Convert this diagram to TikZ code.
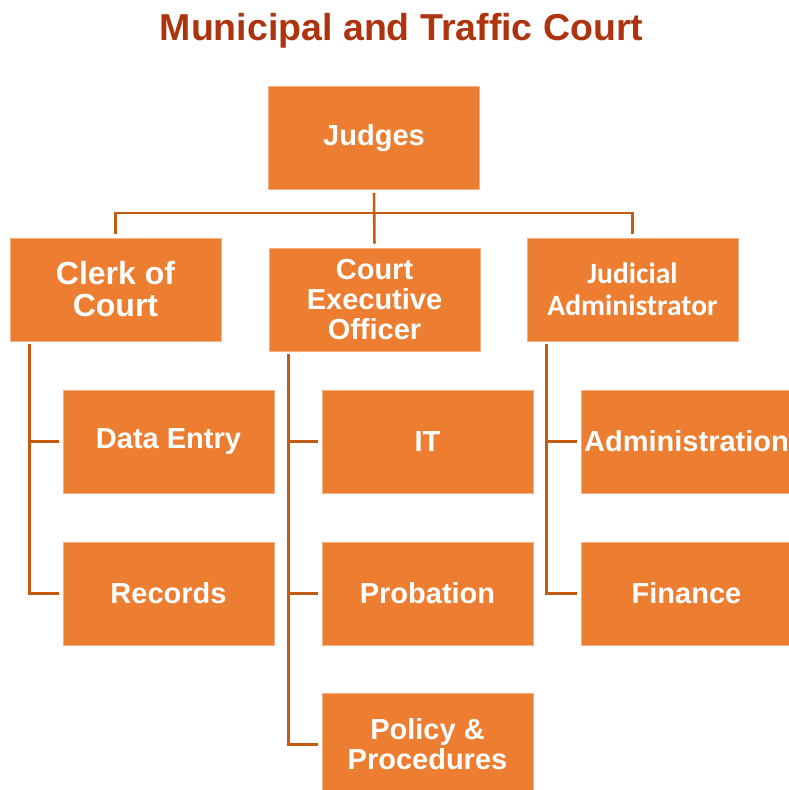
\documentclass[tikz,border=0pt]{standalone}
\usepackage{fontspec}
\setmainfont{Liberation Sans}
\newfontfamily\calibrifont{Carlito}
\usetikzlibrary{positioning}
\definecolor{CourtOrange}{RGB}{237,125,49}
\definecolor{CourtLine}{RGB}{197,90,17}
\definecolor{CourtTitle}{RGB}{173,52,14}

\begin{document}
\begin{tikzpicture}[x=1pt, y=-1pt,
    unit/.style={fill=CourtOrange, draw=CourtOrange!60!white, line width=0.6pt, minimum width=211pt, minimum height=103pt,
      inner sep=0pt, align=center, text=white, font=\bfseries\fontsize{29}{32}\selectfont},
    conn/.style={draw=CourtLine, line width=2.6pt, shorten <=3pt, shorten >=4pt}]
    \useasboundingbox (0,0) rectangle (788,790);

    \node[anchor=base, text=CourtTitle, font=\bfseries\fontsize{37.5}{40}\selectfont] (title) at (401.5,40) {Municipal and Traffic Court};

    % Top level
    \node[unit] (judges) at (374,138) {Judges};
    \node[unit, font=\bfseries\fontsize{32}{32}\selectfont] (clerk) at (115.5,289.5) {Clerk of\\Court};
    \node[unit, font=\bfseries\fontsize{29}{30}\selectfont] (ceo) at (374.5,299.5) {Court\\Executive\\Officer};
    \node[unit, font=\calibrifont\bfseries\fontsize{29.5}{32}\selectfont] (jadmin) at (632.5,289.5) {Judicial\\Administrator};

    % Departments
    \node[unit] (dataentry) at (168.5,441.5) {Data Entry};
    \node[unit] (records) at (168.5,593.5) {Records};
    \node[unit] (it) at (427.5,441.5) {IT};
    \node[unit] (probation) at (427.5,593.5) {Probation};
    \node[unit, font=\bfseries\fontsize{29}{30}\selectfont] (policy) at (427.5,744.5) {Policy \&\\Procedures};
    \node[unit] (admin) at (686.5,441.5) {Administration};
    \node[unit] (finance) at (686.5,593.5) {Finance};

    % Judges to the three offices
    \draw[conn] (judges.south) -- ++(0,23) -| (clerk.north);
    \draw[conn] (judges.south) -- (ceo.north);
    \draw[conn] (judges.south) -- ++(0,23) -| (jadmin.north);

    % Offices to departments
    \draw[conn] ([xshift=20pt]clerk.south west) |- (dataentry.west);
    \draw[conn] ([xshift=20pt]clerk.south west) |- (records.west);
    \draw[conn] ([xshift=20pt]ceo.south west) |- (it.west);
    \draw[conn] ([xshift=20pt]ceo.south west) |- (probation.west);
    \draw[conn] ([xshift=20pt]ceo.south west) |- (policy.west);
    \draw[conn] ([xshift=20pt]jadmin.south west) |- (admin.west);
    \draw[conn] ([xshift=20pt]jadmin.south west) |- (finance.west);
\end{tikzpicture}
\end{document}
